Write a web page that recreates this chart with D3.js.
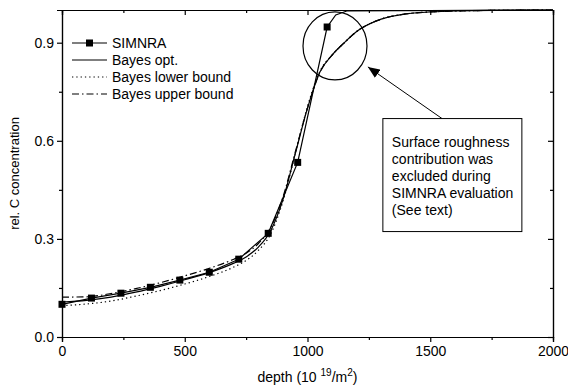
<!DOCTYPE html>
<html>
<head>
<meta charset="utf-8">
<script src="https://cdn.jsdelivr.net/npm/d3@7"></script>
<style>
  body { margin: 0; background: #fff; }
  svg { display: block; font-family: "Liberation Sans", Arial, sans-serif; }
</style>
</head>
<body>
<div id="chart"></div>
<script>
// SIMNRA evaluation (squares = measured points, tail runs into the top border)
const simnraDepth = [0, 120, 240, 360, 480, 600, 720, 840, 960, 1080, 1115, 1160, 2000];
const simnraConc  = [0.100, 0.119, 0.134, 0.152, 0.174, 0.198, 0.238, 0.317, 0.534, 0.948, 0.985, 0.997, 1.0];
const simnraMarkers = 10;

// Bayes curves
const bayesDepth = [0, 100, 200, 300, 400, 500, 600, 700, 750, 800, 850, 900, 950, 1000, 1050, 1100, 1150, 1200, 1300, 1400, 1500, 1600, 1800, 2000];
const bayesOpt   = [0.107, 0.112, 0.122, 0.137, 0.155, 0.175, 0.197, 0.226, 0.245, 0.275, 0.325, 0.420, 0.560, 0.700, 0.810, 0.862, 0.900, 0.934, 0.972, 0.988, 0.994, 0.997, 0.999, 1.0];
const bayesLower = [0.096, 0.101, 0.110, 0.125, 0.142, 0.162, 0.185, 0.214, 0.234, 0.265, 0.315, 0.415, 0.560, 0.705, 0.812, 0.862, 0.900, 0.934, 0.972, 0.988, 0.994, 0.997, 0.999, 1.0];
const bayesUpper = [0.122, 0.123, 0.133, 0.148, 0.166, 0.187, 0.210, 0.238, 0.256, 0.286, 0.335, 0.428, 0.565, 0.700, 0.808, 0.862, 0.900, 0.934, 0.972, 0.988, 0.994, 0.997, 0.999, 1.0];

const xMajor = [0, 500, 1000, 1500, 2000];
const xMinor = [250, 750, 1250, 1750];
const yMajor = [0.0, 0.3, 0.6, 0.9];
const yMinor = [0.15, 0.45, 0.75];

const legendLabels = ['SIMNRA', 'Bayes opt.', 'Bayes lower bound', 'Bayes upper bound'];
const noteLines = ['Surface roughness', 'contribution was', 'excluded during', 'SIMNRA evaluation', '(See text)'];

const svgWidth = 568, svgHeight = 388;
const margin = { top: 10, right: 15, bottom: 51, left: 62 };
const width = svgWidth - margin.left - margin.right;
const height = svgHeight - margin.top - margin.bottom;

const svg = d3.select('#chart').append('svg')
    .attr('width', svgWidth)
    .attr('height', svgHeight);

const g = svg.append('g')
    .attr('transform', `translate(${margin.left},${margin.top})`);

const x = d3.scaleLinear().domain([0, 2000]).range([0, width]);
const y = d3.scaleLinear().domain([0, 1.0]).range([height, 0]);

// axes: outward ticks bottom/left with labels, inward ticks top/right
function styleAxis(sel) {
    sel.selectAll('path, line').attr('stroke', '#000').attr('stroke-width', 1.2);
    sel.selectAll('text').attr('fill', '#000').style('font-size', '14px')
        .style('font-family', '"Liberation Sans", Arial, sans-serif');
}

g.append('g').attr('transform', `translate(0,${height})`)
    .call(d3.axisBottom(x).tickValues(xMajor).tickSize(5).tickPadding(4).tickFormat(d3.format('d')))
    .call(styleAxis);
g.append('g').attr('transform', `translate(0,${height})`)
    .call(d3.axisBottom(x).tickValues(xMinor).tickSize(3).tickFormat(''))
    .call(styleAxis);
g.append('g')
    .call(d3.axisLeft(y).tickValues(yMajor).tickSize(5).tickPadding(3).tickFormat(d3.format('.1f')))
    .call(styleAxis);
g.append('g')
    .call(d3.axisLeft(y).tickValues(yMinor).tickSize(3).tickFormat(''))
    .call(styleAxis);
g.append('g')
    .call(d3.axisBottom(x).tickValues(xMajor).tickSize(5).tickFormat(''))
    .call(styleAxis);
g.append('g')
    .call(d3.axisBottom(x).tickValues(xMinor).tickSize(3).tickFormat(''))
    .call(styleAxis);
g.append('g').attr('transform', `translate(${width},0)`)
    .call(d3.axisLeft(y).tickValues(yMajor).tickSize(5).tickFormat(''))
    .call(styleAxis);
g.append('g').attr('transform', `translate(${width},0)`)
    .call(d3.axisLeft(y).tickValues(yMinor).tickSize(3).tickFormat(''))
    .call(styleAxis);

// axis titles
g.append('text')
    .attr('transform', `translate(${-margin.left + 19},${height / 2}) rotate(-90)`)
    .attr('text-anchor', 'middle')
    .style('font-size', '13px')
    .text('rel. C concentration');

const xTitle = g.append('text')
    .attr('x', width / 2)
    .attr('y', height + 45)
    .attr('text-anchor', 'middle')
    .style('font-size', '14px');
xTitle.append('tspan').text('depth (10 ');
xTitle.append('tspan').attr('dy', -6).style('font-size', '10px').text('19');
xTitle.append('tspan').attr('dy', 6).text('/m');
xTitle.append('tspan').attr('dy', -6).style('font-size', '10px').text('2');
xTitle.append('tspan').attr('dy', 6).text(')');

// curves
const smooth = (vals) => d3.line()
    .x((d, i) => x(bayesDepth[i]))
    .y(d => y(d))
    .curve(d3.curveMonotoneX)(vals);

g.append('path').attr('d', smooth(bayesLower))
    .attr('fill', 'none').attr('stroke', '#000').attr('stroke-width', 1.2)
    .attr('stroke-dasharray', '1.3,3');
g.append('path').attr('d', smooth(bayesUpper))
    .attr('fill', 'none').attr('stroke', '#000').attr('stroke-width', 1.2)
    .attr('stroke-dasharray', '7,3,1.5,3');
g.append('path').attr('d', smooth(bayesOpt))
    .attr('fill', 'none').attr('stroke', '#000').attr('stroke-width', 1.2);

const simLine = d3.line()
    .x((d, i) => x(simnraDepth[i]))
    .y(d => y(d));
g.append('path').attr('d', simLine(simnraConc))
    .attr('fill', 'none').attr('stroke', '#000').attr('stroke-width', 1.2);

g.selectAll('.marker')
    .data(simnraConc.slice(0, simnraMarkers))
    .enter().append('rect')
    .attr('class', 'marker')
    .attr('x', (d, i) => x(simnraDepth[i]) - 3.5)
    .attr('y', d => y(d) - 3.5)
    .attr('width', 7)
    .attr('height', 7)
    .attr('fill', '#000');

// legend
const legend = g.append('g').attr('transform', 'translate(10,33)');
const legendDash = [null, null, '1.3,3', '7,3,1.5,3'];
legendLabels.forEach((label, i) => {
    const row = legend.append('g').attr('transform', `translate(0,${i * 17})`);
    row.append('line')
        .attr('x1', 0).attr('x2', 35).attr('y1', 0).attr('y2', 0)
        .attr('stroke', '#000').attr('stroke-width', 1.2)
        .attr('stroke-dasharray', legendDash[i]);
    if (i === 0) {
        row.append('rect').attr('x', 14).attr('y', -3.5).attr('width', 7).attr('height', 7).attr('fill', '#000');
    }
    row.append('text').attr('x', 40).attr('y', 5)
        .style('font-size', '14px')
        .text(label);
});

// annotation: circle, arrow and note box
g.append('ellipse')
    .attr('cx', x(1112)).attr('cy', y(0.89))
    .attr('rx', 32).attr('ry', 34)
    .attr('fill', 'none').attr('stroke', '#000').attr('stroke-width', 1.2);

svg.append('defs').append('marker')
    .attr('id', 'arrowhead')
    .attr('viewBox', '0 0 12 10')
    .attr('refX', 12).attr('refY', 5)
    .attr('markerWidth', 12).attr('markerHeight', 10)
    .attr('markerUnits', 'userSpaceOnUse')
    .attr('orient', 'auto')
    .append('path').attr('d', 'M0,0 L12,5 L0,10 Z').attr('fill', '#000');

g.append('line')
    .attr('x1', x(1548)).attr('y1', y(0.668))
    .attr('x2', x(1246)).attr('y2', y(0.826))
    .attr('stroke', '#000').attr('stroke-width', 1)
    .attr('marker-end', 'url(#arrowhead)');

const boxX = x(1307), boxY = y(0.668);
g.append('rect')
    .attr('x', boxX).attr('y', boxY)
    .attr('width', 139).attr('height', 113)
    .attr('fill', '#fff').attr('stroke', '#000').attr('stroke-width', 1);

g.selectAll('.note')
    .data(noteLines)
    .enter().append('text')
    .attr('class', 'note')
    .attr('x', boxX + 9)
    .attr('y', (d, i) => boxY + 28 + i * 17.2)
    .style('font-size', '14px')
    .text(d => d);
</script>
</body>
</html>
